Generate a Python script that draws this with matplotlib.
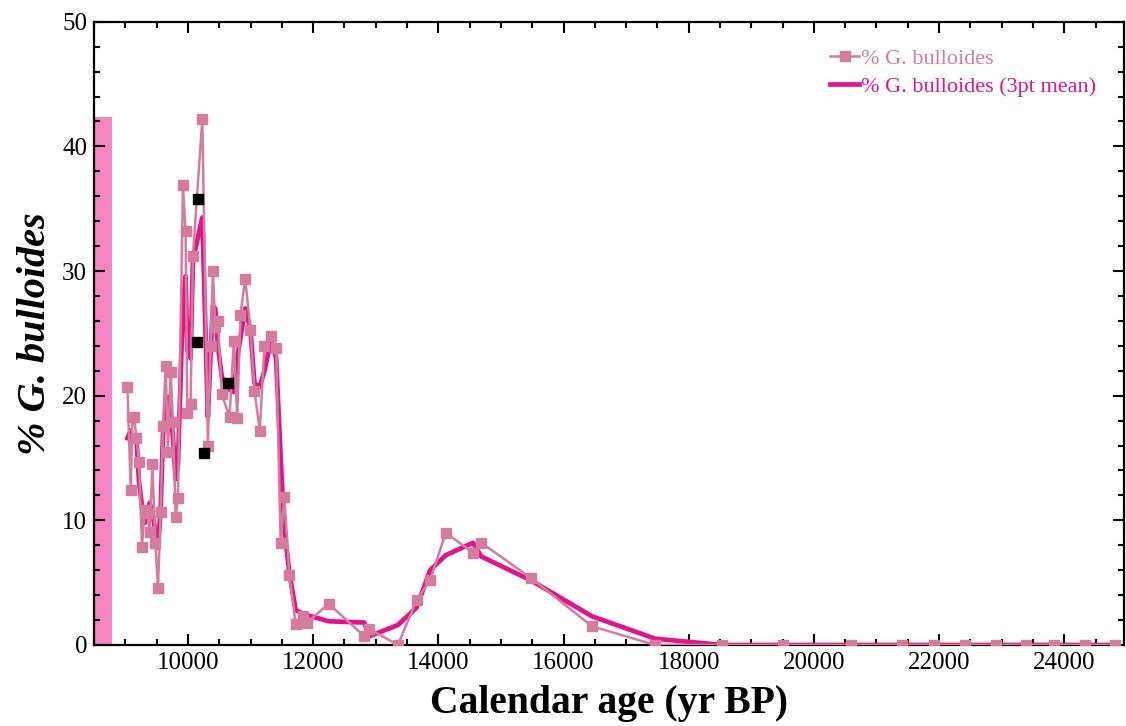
import matplotlib
matplotlib.use('Agg')
import matplotlib.pyplot as plt
from matplotlib.ticker import MultipleLocator
import numpy as np

plt.rcParams['font.family'] = ['Liberation Serif', 'DejaVu Serif']

# raw counts (% G. bulloides) against calendar age
age = [9034, 9087, 9114, 9139, 9178, 9219, 9267, 9310, 9346, 9390,
       9433, 9480, 9522, 9565, 9602, 9645, 9681, 9724, 9761, 9804,
       9841, 9920, 9963, 9990, 10043, 10080, 10230, 10319, 10362, 10399,
       10437, 10478, 10542, 10665, 10733, 10787, 10840, 10915, 10999, 11063,
       11148, 11223, 11329, 11409, 11482, 11541, 11621, 11721, 11844, 11900,
       12251, 12817, 12896, 13354, 13653, 13869, 14119, 14554, 14686, 15474,
       16456, 17466, 18539, 19511, 20595, 21408, 21918, 22412, 22906, 23384,
       23830, 24325, 24803]
bulloides = [20.7, 12.4, 18.3, 18.3, 16.6, 14.7, 7.9, 10.8, 10.6, 9.1,
             14.5, 8.2, 4.6, 10.7, 17.6, 22.4, 15.5, 21.9, 17.9, 10.3,
             11.8, 36.9, 33.2, 18.6, 19.3, 31.2, 42.2, 16.0, 24.0, 30.0,
             25.5, 26.0, 20.1, 18.3, 24.4, 18.2, 26.5, 29.4, 25.3, 20.4,
             17.2, 24.0, 24.8, 23.8, 8.2, 11.9, 5.6, 1.7, 2.3, 1.8,
             3.3, 0.7, 1.3, 0.0, 3.6, 5.2, 9.0, 7.4, 8.2, 5.4,
             1.5, 0.0, 0.0, 0.0, 0.0, 0.0, 0.0, 0.0, 0.0, 0.0,
             0.0, 0.0, 0.0]
# 3pt mean
bulloides_mean = [16.6, 17.2, 16.3, 16.8, 16.5, 13.1, 11.1, 9.8, 10.2, 11.4,
                  10.6, 9.1, 7.8, 11.0, 16.9, 18.5, 19.9, 18.4, 16.7, 13.3,
                  14.5, 27.3, 29.6, 23.7, 23.0, 30.9, 34.3, 18.3, 23.4, 27.2,
                  27.0, 24.0, 21.5, 20.5, 20.3, 23.0, 24.7, 27.0, 25.3, 21.0,
                  20.7, 22.0, 24.5, 23.0, 15.0, 9.2, 5.8, 2.8, 2.5, 2.4,
                  1.9, 1.8, 0.7, 1.6, 3.0, 6.0, 7.2, 8.2, 7.1, 5.2,
                  2.3, 0.5, 0.0, 0.0, 0.0, 0.0, 0.0, 0.0, 0.0, 0.0,
                  0.0, 0.0, 0.0]
# black squares
dated_age = [10159, 10147, 10255, 10633]
dated_val = [35.8, 24.3, 15.4, 21.0]
# shaded bar at the young end
bar_age = [8640]
bar_width = [280]
bar_val = [42.4]

RAW = '#D57C9E'
MEAN = '#E2148B'

fig = plt.figure(figsize=(11.26, 7.26), dpi=100)
ax = fig.add_axes([0.0835, 0.1116, 0.9145, 0.8584])

ax.bar(bar_age, bar_val, width=bar_width, color='#F784C4', zorder=1)
ax.plot(age, bulloides_mean, color=MEAN, lw=3.4, zorder=3,
        label='% G. bulloides (3pt mean)')
ax.plot(age, bulloides, color=RAW, lw=1.8, marker='s', ms=6.5, zorder=4,
        label='% G. bulloides')
ax.plot(dated_age, dated_val, ls='none', marker='s', ms=7, color='black',
        zorder=5)

ax.set_xlim(8500, 24950)
ax.set_ylim(0, 50)
ax.xaxis.set_major_locator(MultipleLocator(2000))
ax.xaxis.set_minor_locator(MultipleLocator(500))
ax.yaxis.set_major_locator(MultipleLocator(10))
ax.yaxis.set_minor_locator(MultipleLocator(2))
ax.tick_params(which='both', direction='in', top=True, right=True,
               width=1.5, labelsize=18)
ax.tick_params(which='major', length=8, pad=5)
ax.tick_params(which='minor', length=4.5)
for s in ax.spines.values():
    s.set_linewidth(1.6)

ax.set_xlabel('Calendar age (yr BP)', fontsize=28.5, fontweight='bold',
              labelpad=8)
ax.set_ylabel('% G. bulloides', fontsize=29, fontweight='bold',
              fontstyle='italic', labelpad=6)

h, l = ax.get_legend_handles_labels()
ax.legend(h[::-1], l[::-1], loc='upper right', bbox_to_anchor=(0.993, 0.99),
          frameon=False, fontsize=16, handlelength=1.3, handletextpad=0.1,
          labelspacing=0.35, labelcolor='linecolor')

fig.savefig('out.png', dpi=100)
